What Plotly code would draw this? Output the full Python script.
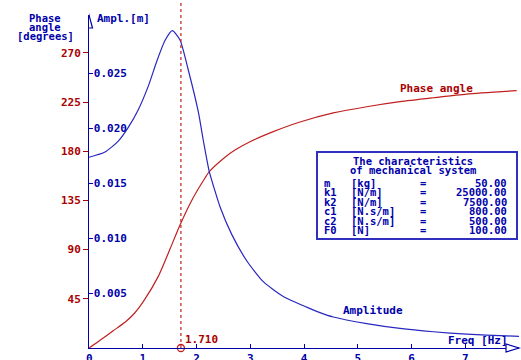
import plotly.graph_objects as go

# ---------------- data ----------------
amp_freq = [0.0, 0.298, 0.545, 0.731, 0.917, 1.103, 1.260, 1.414, 1.550, 1.693,
            1.847, 2.034, 2.127, 2.238, 2.344, 2.437, 2.655, 2.934, 3.243, 3.615,
            4.050, 4.298, 4.545, 5.167, 5.786, 6.406, 7.027, 7.771, 8.0]
amplitude = [0.01737, 0.01785, 0.01885, 0.02010, 0.02170, 0.02385, 0.02610, 0.02800, 0.0289, 0.02805,
             0.02532, 0.02150, 0.01890, 0.01606, 0.01430, 0.01287, 0.01035, 0.00795, 0.00604, 0.00470,
             0.00372, 0.00322, 0.00282, 0.00222, 0.00178, 0.00148, 0.00126, 0.00110, 0.00106]

phase_freq = [0.0, 0.15, 0.298, 0.45, 0.670, 0.85, 1.010, 1.289, 1.507, 1.693, 1.911, 2.158, 2.238,
              2.530, 2.716, 2.995, 3.429, 3.926, 4.545, 5.167, 5.786, 6.406, 7.027, 7.957]
phase_deg = [0.0, 5.0, 10.3, 15.8, 23.5, 32.0, 42.4, 65.5, 90.5, 112.5, 135.0, 155.5, 161.3,
             174.5, 181.1, 188.7, 197.9, 206.7, 215.0, 220.7, 225.3, 228.9, 232.3, 235.4]

peak_freq = 1.71
peak_label = "1.710"

x_ticks = [0, 1, 2, 3, 4, 5, 6, 7]
phase_ticks = [45, 90, 135, 180, 225, 270]
amp_ticks = [0.005, 0.010, 0.015, 0.020, 0.025]

legend_title = ["The characteristics", "of mechanical system"]
param_names = ["m", "k1", "k2", "c1", "c2", "F0"]
param_units = ["[kg]", "[N/m]", "[N/m]", "[N.s/m]", "[N.s/m]", "[N]"]
param_values = ["50.00", "25000.00", "7500.00", "800.00", "500.00", "100.00"]

# ---------------- style ----------------
BLUE = "#0000aa"
RED = "#aa0000"
LBLUE = "#2828c0"
LRED = "#c02020"
FONT = "DejaVu Sans Mono"

W, H = 521, 360
ML, MR, MT, MB = 89, 2, 15, 12
PW, PH = W - ML - MR, H - MT - MB


def fx(px):
    return (px - ML) / PW


def fy(py):
    return (H - MB - py) / PH


def f(color, size=11):
    return dict(family=FONT, size=size, color=color, weight="bold")


fig = go.Figure()

fig.add_trace(go.Scatter(x=phase_freq, y=phase_deg, mode="lines",
                         line=dict(color=LRED, width=1.2, shape="spline", smoothing=0.6),
                         yaxis="y", showlegend=False, hoverinfo="skip"))
fig.add_trace(go.Scatter(x=amp_freq, y=amplitude, mode="lines",
                         line=dict(color=LBLUE, width=1.2, shape="spline", smoothing=0.6),
                         yaxis="y2", showlegend=False, hoverinfo="skip"))
fig.add_trace(go.Scatter(x=[peak_freq], y=[0], mode="markers", cliponaxis=False,
                         marker=dict(symbol="circle-open", size=7, color=LRED, line=dict(width=1.3)),
                         yaxis="y", showlegend=False, hoverinfo="skip"))

shapes = [
    dict(type="line", xref="x", yref="paper", x0=peak_freq, x1=peak_freq, y0=0, y1=1.045,
         line=dict(color=LRED, width=1.2, dash="dot")),
    dict(type="rect", xref="paper", yref="paper", x0=fx(317), x1=fx(517), y0=fy(152), y1=fy(239),
         line=dict(color="#3030c0", width=2), fillcolor="white"),
    # axis arrow heads
    dict(type="path", xref="x", yref="paper", xsizemode="pixel", ysizemode="pixel",
         xanchor=0, yanchor=1, path="M -3.5,-13 L 3.5,-13 L 0,0 Z",
         line=dict(color=BLUE, width=1.2), fillcolor="white"),
    dict(type="path", xref="paper", yref="paper", xsizemode="pixel", ysizemode="pixel",
         xanchor=1, yanchor=0, path="M -13,-4 L -13,4 L 0,0 Z",
         line=dict(color=BLUE, width=1.2), fillcolor="white"),
]

anns = []


def ann(text, px, py, color, xanchor="center", size=11):
    anns.append(dict(text=text, x=fx(px), y=fy(py), xref="paper", yref="paper", showarrow=False,
                     xanchor=xanchor, yanchor="middle", font=f(color, size), borderpad=0))


ann("Phase", 45, 18, BLUE, size=10.5)
ann("angle", 45, 27.2, BLUE, size=10.5)
ann("[degrees]", 45, 36.4, BLUE, size=10.5)
ann("Ampl.[m]", 96, 18.5, BLUE, "left")
ann("Freq [Hz]", 447, 340, BLUE, "left")
ann("Phase angle", 436, 88, RED)
ann("Amplitude", 373, 310, BLUE)
ann(peak_label, 184, 339, RED, "left")

ann(legend_title[0], 413, 161, BLUE, size=10.5)
ann(legend_title[1], 413, 170.4, BLUE, size=10.5)
row_y = [183, 192.4, 201.8, 211.2, 220.6, 230]
for n, u, v, yy in zip(param_names, param_units, param_values, row_y):
    ann(n, 323, yy, BLUE, "left", size=10.5)
    ann(u, 350, yy, BLUE, "left", size=10.5)
    ann("=", 423, yy, BLUE, size=10.5)
    ann(v, 508, yy, BLUE, "right", size=10.5)

# the origin tick label (plotly hides it at the axes corner)
anns.append(dict(text=str(x_ticks[0]), x=x_ticks[0], y=fy(350.5), xref="x", yref="paper", showarrow=False,
                 xanchor="center", yanchor="top", font=f(BLUE), borderpad=0))

fig.update_layout(
    width=W, height=H,
    margin=dict(l=ML, r=MR, t=MT, b=MB, autoexpand=False),
    paper_bgcolor="white", plot_bgcolor="white",
    shapes=shapes, annotations=anns,
    xaxis=dict(range=[0, 8], tickvals=x_ticks, ticks="inside", ticklen=4, tickcolor=BLUE,
               showline=True, linecolor=BLUE, linewidth=1, showgrid=False, zeroline=False,
               tickfont=f(BLUE), automargin=False, ticklabeloverflow="allow"),
    yaxis=dict(range=[0, 304.6], tickvals=phase_ticks, ticks="outside", ticklen=5, tickcolor=RED,
               showline=True, linecolor=BLUE, linewidth=1, showgrid=False, zeroline=False,
               tickfont=f(RED), side="left", automargin=False),
    yaxis2=dict(range=[0, 0.03033], tickvals=amp_ticks, tickformat=".3f", overlaying="y", side="left",
                ticks="inside", ticklen=4, tickcolor=BLUE, ticklabelposition="inside",
                showline=False, showgrid=False, zeroline=False, tickfont=f(BLUE), automargin=False),
)

fig.write_html("out.html")
